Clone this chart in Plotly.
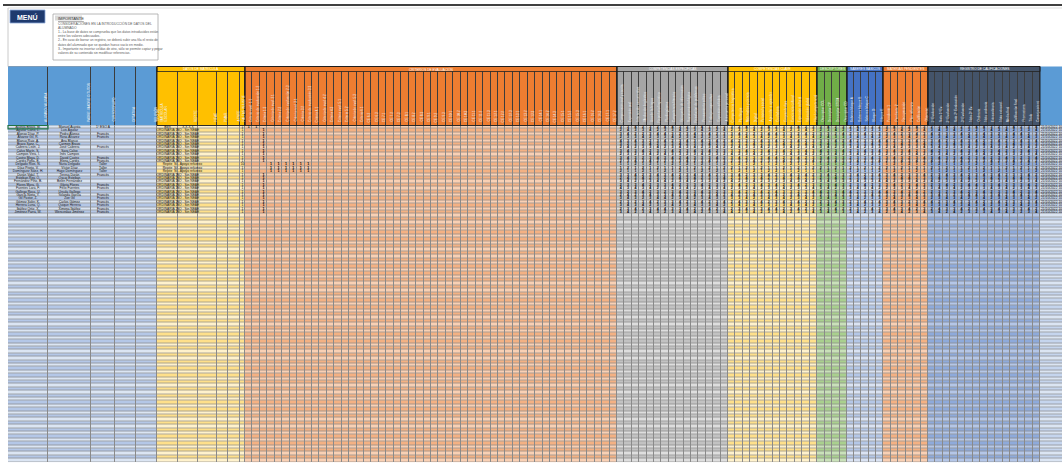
import plotly.graph_objects as go

# ---------------- data ----------------
section_titles = ["", "DATOS DE MATRÍCULA", "CRITERIOS DE EVALUACIÓN", "COMPETENCIAS ESPECÍFICAS",
                  "COMPETENCIAS CLAVE", "DESCRIPTORES", "SABERES BÁSICOS", "MATERIAS PENDIENTES",
                  "REGISTRO DE CALIFICACIONES", ""]

key_headers = ["ALUMNO / ALUMNA", "PADRE, MADRE O TUTOR", "CURSO/GRUPO", "OPTATIVA", "RELIGIÓN"]
yellow_headers = ["TIPO DE<br>MATRÍCULA<br>ESCOLAR", "REPITE", "NEAE", "PMAR", "ACNEE", "FALTAS INJUSTIF."]
orange_headers = ["Criterio eval. 1.1", "Criterio de evaluación 1.2", "Criterio 1.3", "Criterio de eval. 2.1",
                  "Criterio 2.2", "Criterio de evaluación 2.3", "Criterio eval. 3.1", "Criterio 3.2",
                  "Criterio de evaluación 3.3", "Criterio 4.1", "Criterio de eval. 4.2", "Criterio 4.3",
                  "Criterio eval. 5.1", "Criterio 5.2", "Criterio de eval. 5.3", "Criterio 6.1",
                  "CE 6.2", "CE 6.3", "CE 7.1", "CE 7.2", "CE 7.3", "CE 8.1", "CE 8.2", "CE 8.3",
                  "CE 9.1", "CE 9.2", "CE 9.3", "CE 10.1", "CE 10.2", "CE 10.3", "CE 11.1", "CE 11.2",
                  "CE 11.3", "CE 12.1", "CE 12.2", "CE 12.3", "CE 13.1", "CE 13.2", "CE 13.3", "CE 14.1",
                  "CE 14.2", "CE 14.3", "CE 15.1", "CE 15.2", "CE 15.3", "CE 16.1", "CE 16.2", "CE 16.3",
                  "CE 17.1", "CE 17.2"]
gray_headers = ["Comprensión oral y escrita", "Expresión oral", "Interacción comunicativa",
                "Mediación lingüística", "Uso de la lengua", "Repertorio lingüístico",
                "Plurilingüismo", "Competencia literaria", "Búsqueda de información",
                "Razonamiento lógico", "Resolución de problemas", "Pensamiento crítico",
                "Trabajo cooperativo", "Expresión artística", "Autonomía personal"]
yellow2_headers = ["Competencia lingüística", "Plurilingüe", "Matemática y ciencia",
                   "Digital", "Personal y social", "Aprender a aprender", "Ciudadana",
                   "Emprendedora", "Conciencia cultural", "Expresión cultural", "Valoración global",
                   "Nivel competencial"]
green_headers = ["Descriptor CCL", "Descriptor CP", "Descriptor STEM", "Descriptor CD"]
blue2_headers = ["Saberes bloque A", "Saberes bloque B", "Saberes bloque C", "Bloque D", "Bloque E"]
orange2_headers = ["Pendiente 1", "Pendiente 2", "Recuperación", "Plan refuerzo", "Calificación", "Observac."]
dark_headers = ["1ª Evaluación", "Nota 1ª Ev.", "2ª Evaluación", "Nota 2ª Evaluación", "3ª Evaluación",
                "Nota 3ª Ev.", "Ordinaria", "Nota ordinaria", "Extraordinaria", "Nota extraord.",
                "Media final", "Calificación final", "Promociona", "Titula", "Consejo orient."]
last_headers = ["FECHA DE REGISTRO"]

headers = [key_headers, yellow_headers, orange_headers, gray_headers, yellow2_headers,
           green_headers, blue2_headers, orange2_headers, dark_headers, last_headers]

alumnos = ["Acosta Bravo, M.", "Aguilar Cano, L.", "Alonso Díaz, P.", "Álvarez Gil, R.", "Blanco Ruiz, A.",
           "Bravo Sanz, C.", "Cabrera León, J.", "Calvo Marín, S.", "Campos Vera, I.", "Castro Moya, D.",
           "Cortés Peña, E.", "Delgado Ríos, N.", "Díaz Prieto, V.", "Domínguez Sáez, H.", "Durán Vidal, T.",
           "Esteban Rey, O.", "Fernández Pino, B.", "Flores Mora, G.", "Fuentes Lara, F.", "Gallego Roca, U.",
           "García Nieto, Y.", "Gil Pastor, Z.", "Gómez Soler, K.", "Herrera Luna, Q.", "Ibáñez Ortiz, X.",
           "Jiménez Parra, W."]
tutores = ["Manuel Acosta", "Luis Aguilar", "Pedro Alonso", "Rosa Álvarez", "Ana Blanco", "Carmen Bravo",
           "José Cabrera", "Sara Calvo", "Inés Campos", "David Castro", "Elena Cortés", "Nuria Delgado",
           "Víctor Díaz", "Hugo Domínguez", "Teresa Durán", "Óscar Esteban", "Belén Fernández",
           "Gloria Flores", "Félix Fuentes", "Úrsula Gallego", "Yolanda García", "Zoe Gil",
           "Carlos Gómez", "Quique Herrera", "Ximena Ibáñez", "Wenceslao Jiménez"]
optativas = ["1º ESO A", "", "Francés", "Francés", "", "", "Francés", "", "", "Francés", "Francés",
             "Taller", "Taller", "Taller", "Francés", "", "", "Francés", "Francés", "", "Francés",
             "Francés", "Francés", "Francés", "Francés", "Francés"]
tipo_matricula = ["Bien", "ORDINARIA 1º", "ORDINARIA 1º", "ORDINARIA 1º", "ORDINARIA 1º", "ORDINARIA 1º",
                  "ORDINARIA 1º", "ORDINARIA 1º", "ORDINARIA 1º", "ORDINARIA 1º", "ORDINARIA 1º",
                  "Repite", "Repite", "Repite", "ORDINARIA 1º", "ORDINARIA 1º", "ORDINARIA 1º",
                  "ORDINARIA 1º", "ORDINARIA 1º", "ORDINARIA 1º", "ORDINARIA 1º", "ORDINARIA 1º",
                  "ORDINARIA 1º", "ORDINARIA 1º", "ORDINARIA 1º", "ORDINARIA 1º"]
repite = ["X X X X", "NO - Sin NEAE", "NO - Sin NEAE", "NO - Sin NEAE", "NO - Sin NEAE", "NO - Sin NEAE",
          "NO - Sin NEAE", "NO - Sin NEAE", "NO - Sin NEAE", "NO - Sin NEAE", "NO - Sin NEAE",
          "Sí - Apoyo refuerzo", "Sí - Apoyo refuerzo", "Sí - Apoyo refuerzo", "NO - Sin NEAE",
          "NO - Sin NEAE", "NO - Sin NEAE", "NO - Sin NEAE", "NO - Sin NEAE", "NO - Sin NEAE",
          "NO - Sin NEAE", "NO - Sin NEAE", "NO - Sin NEAE", "NO - Sin NEAE", "NO - Sin NEAE",
          "NO - Sin NEAE"]
faltas = ["1", "1", "1", "1", "1", "1", "1", "1", "1", "1", "1", "10", "1", "1", "1", "1", "1", "1",
          "1", "1", "1", "1", "1", "1", "1", "1"]
criterios_marcados = [[0, 1], [2], [2], [2], [2], [2], [2], [2], [2], [2], [2],
                      [3, 4, 5, 6, 7, 8], [3, 4, 5, 6, 7, 8], [3, 4, 5, 6, 7, 8],
                      [2], [2], [2], [2], [2], [2], [2], [2], [2], [2], [2], [2]]
# gray(15) | yellow(12) | green(4) | blue(5) | orange(6) | dark(15)
notas = [
    "334232443234123 324334233423 3423 24332 343243 234323443234234",
    "243342334234324 233423342343 2342 34233 234234 343423234342334",
    "342234432343423 342234433242 3324 23423 342343 423342343234423",
    "233423342342233 234342234334 2433 34342 233423 234234342342343",
    "434323423434342 423343423423 3342 42334 423342 342343423423434",
    "323342334233423 332423342342 2433 23342 334234 233423342334233",
    "242334234342342 243342334234 3423 34233 242334 342334234342342",
    "343423342343423 334234342343 4234 23434 343423 423343423423343",
    "232342433234232 423423234342 2342 34232 232342 234232342433234",
    "343234342433342 342334423423 3433 23343 343234 343342342343234",
    "234342233423433 233423342334 2343 34234 234342 432343234234342",
    "112121121212112 121211212121 1212 12121 121212 121121212112121",
    "121212112121212 212121121212 2121 21212 212121 212112121121212",
    "211211212112121 121212211211 1211 12112 121121 112121121212112",
    "334234342343423 342334234342 3423 34234 342334 234342343423342",
    "243423234342334 234342343423 2342 23423 234423 342334234234423",
    "342334423423342 423423234342 3433 34334 423342 423342342343234",
    "233423342334233 342343423423 2343 23423 342343 234234433423342",
    "434342343423434 233423342334 3423 34342 233423 343423234342343",
    "323423234234323 342342433234 4234 42334 434342 232342342334234",
    "242343342342342 423433423423 2342 23342 323423 343234433423423",
    "343234423423433 334234342342 3433 34233 242343 234342342343342",
    "232342334234234 243342343423 2343 23434 343234 423433423423234",
    "343423342343342 342423234342 3423 34232 232342 334234342342423",
    "234234433423423 234334423423 2342 23343 343423 243342343423342",
    "342343234342334 423423342334 3433 34234 234234 342423234342234",
]
fechas = ["21/10/2022 10:15:32", "21/10/2022 10:17:05", "21/10/2022 10:18:41", "21/10/2022 10:20:12",
          "21/10/2022 10:21:58", "21/10/2022 10:23:30", "21/10/2022 10:25:02", "21/10/2022 10:26:44",
          "21/10/2022 10:28:19", "21/10/2022 10:29:55", "21/10/2022 10:31:27", "21/10/2022 10:33:08",
          "21/10/2022 10:34:40", "21/10/2022 10:36:13", "21/10/2022 10:37:49", "21/10/2022 10:39:21",
          "21/10/2022 10:40:56", "21/10/2022 10:42:30", "21/10/2022 10:44:03", "21/10/2022 10:45:37",
          "21/10/2022 10:47:10", "21/10/2022 10:48:46", "21/10/2022 10:50:18", "21/10/2022 10:51:52",
          "21/10/2022 10:53:25", "21/10/2022 10:55:01"]

aviso_titulo = "IMPORTANTE"
aviso_lineas = ["CONSIDERACIONES EN LA INTRODUCCIÓN DE DATOS DEL",
                "ALUMNADO",
                "1.- La base de datos se comprueba que los datos introducidos están",
                "entre los valores adecuados.",
                "2.- En caso de borrar un registro, se deberá subir una fila el resto de",
                "datos del alumnado que se quedan hueco vacío en medio.",
                "3.- Importante no insertar celdas de otro, sólo se permite copiar y pegar",
                "valores de su contenido sin modificar referencias."]
menu_label = "MENÚ"

# ---------------- styles / geometry ----------------
header_colors = ["#5b9bd5", "#ffc000", "#ed7d31", "#a5a5a5", "#ffc000", "#70ad47", "#4472c4",
                 "#ed7d31", "#44546a", "#5b9bd5"]
band_colors = [("#dbe5f3", "#b4c7e7"), ("#fff2cc", "#ffe08a"), ("#f9d0b4", "#f4b183"),
               ("#dedede", "#c2c2c2"), ("#fff2cc", "#ffe08a"), ("#c9e1b9", "#a9d08e"),
               ("#dae3f3", "#b4c7e7"), ("#f9d0b4", "#f4b183"), ("#b4c6e7", "#8eaadb"),
               ("#dbe5f3", "#c5d5ee")]
sec_x = [(8, 157), (157, 245), (245, 617), (617, 728), (728, 817), (817, 847), (847, 883),
         (883, 928), (928, 1040), (1040, 1075)]
custom_edges = {0: [8, 48, 91, 115, 136, 157], 1: [157, 178, 198, 217, 228, 240, 245]}
HEAD_TOP, BAND_BOT, HEAD_BOT = 66.5, 71.5, 125.5
ROW_H = 3.4
N_ROWS = 99
FONT = "Liberation Sans"

edges, col_sec, sec_first = [], [], []
for s, (x0, x1) in enumerate(sec_x):
    n = len(headers[s])
    e = custom_edges.get(s, [x0 + (x1 - x0) * k / n for k in range(n + 1)])
    sec_first.append(len(col_sec))
    edges.extend(e if not edges else e[1:])
    col_sec += [s] * n
ncol = len(col_sec)
centers = [(edges[c] + edges[c + 1]) / 2 for c in range(ncol)]
y_edges = [HEAD_BOT + ROW_H * k for k in range(N_ROWS + 1)]
row_c = [(y_edges[r] + y_edges[r + 1]) / 2 for r in range(N_ROWS)]

palette = []
for a, b in band_colors:
    palette += [a, b]
palette += header_colors
K = len(palette)
cscale = []
for k, col in enumerate(palette):
    cscale += [[k / K, col], [(k + 1) / K, col]]

body_z = [[2 * col_sec[c] + (r % 2) + 0.5 for c in range(ncol)] for r in range(N_ROWS)]
head_z = [[20 + col_sec[c] + 0.5 for c in range(ncol)]]

fig = go.Figure()
fig.add_trace(go.Heatmap(x=edges, y=[HEAD_TOP, HEAD_BOT], z=head_z, colorscale=cscale, zmin=0, zmax=K,
                         showscale=False, xgap=1, ygap=0, hoverinfo="skip"))
fig.add_trace(go.Heatmap(x=edges, y=y_edges, z=body_z, colorscale=cscale, zmin=0, zmax=K,
                         showscale=False, xgap=1, ygap=0.7, hoverinfo="skip"))

# cell texts
tx, ty, tt = [], [], []
sx, sy, st = [], [], []
for r in range(len(alumnos)):
    for c, s in ((0, alumnos[r]), (1, tutores[r]), (2, optativas[r]),
                 (sec_first[1], tipo_matricula[r]), (sec_first[1] + 1, repite[r]),
                 (sec_first[1] + 5, faltas[r])):
        if s:
            tx.append(centers[c]); ty.append(row_c[r]); tt.append(s)
    for k in criterios_marcados[r]:
        sx.append(centers[sec_first[2] + k]); sy.append(row_c[r]); st.append("1")
    digits = notas[r].replace(" ", "")
    for k, d in enumerate(digits[: ncol - 1 - sec_first[3]]):
        sx.append(centers[sec_first[3] + k]); sy.append(row_c[r]); st.append(d)
fig.add_trace(go.Scatter(x=tx, y=ty, text=tt, mode="text", textposition="middle center",
                         textfont=dict(size=3.3, color="#111111", family=FONT), hoverinfo="skip"))
fig.add_trace(go.Scatter(x=sx, y=sy, text=st, mode="text", textposition="middle center",
                         textfont=dict(size=3.6, color="#000000", family=FONT, weight="bold"),
                         hoverinfo="skip"))
fig.add_trace(go.Scatter(x=[edges[sec_first[9]] + 1] * len(fechas), y=row_c[:len(fechas)], text=fechas,
                         mode="text", textposition="middle right",
                         textfont=dict(size=3.3, color="#111111", family=FONT), hoverinfo="skip"))

shapes = []
# backgrounds for gaps
shapes.append(dict(type="rect", x0=edges[0], x1=edges[sec_first[9]], y0=HEAD_TOP, y1=HEAD_BOT,
                   fillcolor="#3c3c3c", line_width=0, layer="below"))
shapes.append(dict(type="rect", x0=edges[0], x1=edges[-1], y0=HEAD_BOT, y1=y_edges[-1],
                   fillcolor="#8a8a8a", line_width=0, layer="below"))
# section title bands and outlines
anns = []
for s in range(1, 9):
    x0, x1 = edges[sec_first[s]], edges[sec_first[s] + len(headers[s])]
    shapes.append(dict(type="rect", x0=x0, x1=x1, y0=HEAD_TOP, y1=BAND_BOT, fillcolor=header_colors[s],
                       line=dict(color="#222222", width=0.8)))
    shapes.append(dict(type="rect", x0=x0, x1=x1, y0=HEAD_TOP, y1=HEAD_BOT,
                       line=dict(color="#1a1a1a", width=0.9)))
    anns.append(dict(x=(x0 + x1) / 2, y=(HEAD_TOP + BAND_BOT) / 2, text=section_titles[s], showarrow=False,
                     font=dict(size=3.2, color="#ffffff", family=FONT)))
# vertical header labels
for c in range(ncol):
    s = col_sec[c]
    lab = headers[s][c - sec_first[s]]
    if s == 1 and c == sec_first[1]:
        xa = edges[c] + 4
    else:
        xa = edges[c + 1] - 2
    anns.append(dict(x=xa, y=HEAD_BOT - 1.5, text=lab, showarrow=False, textangle=-90,
                     xanchor="center", yanchor="bottom", align="left",
                     font=dict(size=3.2, color="#f2f2f2", family=FONT)))

# top frame
shapes.append(dict(type="line", x0=3, x1=1062, y0=5, y1=5, line=dict(color="#000000", width=1.6)))
shapes.append(dict(type="line", x0=8, x1=1062, y0=8, y1=8, line=dict(color="#c8c8c8", width=0.6)))
shapes.append(dict(type="line", x0=8, x1=8, y0=8, y1=HEAD_TOP, line=dict(color="#bdbdbd", width=0.8)))
# menu button
shapes.append(dict(type="rect", x0=10, x1=45, y0=10, y1=23, fillcolor="#1f3a6e",
                   line=dict(color="#8ea9db", width=0.8)))
anns.append(dict(x=27.5, y=16.5, text="<b>%s</b>" % menu_label, showarrow=False,
                 font=dict(size=7, color="#ffffff", family=FONT)))
# notice box
shapes.append(dict(type="rect", x0=53, x1=158, y0=14, y1=60, fillcolor="#ffffff",
                   line=dict(color="#a6a6a6", width=0.8)))
shapes.append(dict(type="rect", x0=55, x1=82, y0=15.5, y1=20.5, fillcolor="#d9d9d9", line_width=0))
anns.append(dict(x=55.5, y=18, text="<u>%s</u>" % aviso_titulo, showarrow=False, xanchor="left",
                 font=dict(size=4, color="#404040", family=FONT)))
for i, line in enumerate(aviso_lineas):
    anns.append(dict(x=55.5, y=23.5 + 4.2 * i, text=line, showarrow=False, xanchor="left",
                     font=dict(size=3.3, color="#595959", family=FONT)))
# active cell
shapes.append(dict(type="rect", x0=edges[0], x1=edges[1], y0=y_edges[0], y1=y_edges[1],
                   line=dict(color="#217346", width=1.2)))

fig.update_layout(width=1062, height=470, margin=dict(l=0, r=0, t=0, b=0),
                  paper_bgcolor="#ffffff", plot_bgcolor="#ffffff", showlegend=False,
                  shapes=shapes, annotations=anns,
                  xaxis=dict(range=[0, 1062], visible=False, fixedrange=True),
                  yaxis=dict(range=[470, 0], visible=False, fixedrange=True))
fig.write_html("out.html", post_script="document.body.style.margin='0px';",
               config={"displayModeBar": False})
